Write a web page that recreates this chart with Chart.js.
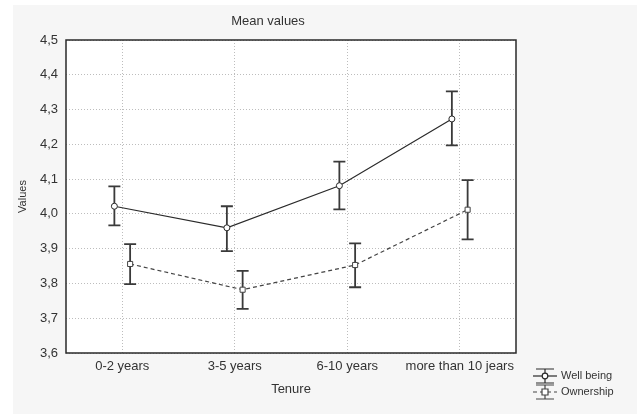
<!DOCTYPE html>
<html>
<head>
<meta charset="utf-8">
<script src="https://cdn.jsdelivr.net/npm/chart.js@4.4.1/dist/chart.umd.min.js"></script>
<style>
  html, body { margin: 0; padding: 0; background: #fff; }
  #wrap { width: 637px; height: 414px; }
</style>
</head>
<body>
<div id="wrap"><canvas id="c"></canvas></div>
<script>
// Mean values by tenure, with error bars
const tenure = ['0-2 years', '3-5 years', '6-10 years', 'more than 10 jears'];

const wellMean = [4.022, 3.960, 4.081, 4.273];
const wellLow  = [3.967, 3.893, 4.013, 4.197];
const wellHigh = [4.079, 4.022, 4.150, 4.352];

const ownMean = [3.856, 3.782, 3.853, 4.012];
const ownLow  = [3.798, 3.727, 3.789, 3.927];
const ownHigh = [3.913, 3.836, 3.915, 4.097];

const yTicks = [3.6, 3.7, 3.8, 3.9, 4.0, 4.1, 4.2, 4.3, 4.4, 4.5];

const FONT = "'Liberation Sans', Arial, sans-serif";
const TXT = '#333';
const DODGE = 0.07; // small horizontal shift so the two series don't overlap

const pts = (vals, shift) => vals.map((v, i) => ({ x: i + 1 + shift, y: v }));

const data = {
    datasets: [
        {
            label: 'Well being',
            data: pts(wellMean, -DODGE),
            low: wellLow, high: wellHigh,
            borderColor: '#2a2a2a', borderWidth: 1.2,
            pointStyle: 'circle', pointRadius: 3,
            pointBackgroundColor: '#fff', pointBorderColor: '#2a2a2a', pointBorderWidth: 1
        },
        {
            label: 'Ownership',
            data: pts(ownMean, DODGE),
            low: ownLow, high: ownHigh,
            borderColor: '#444', borderWidth: 1.2, borderDash: [4, 3],
            pointStyle: 'rect', pointRadius: 3.6,
            pointBackgroundColor: '#fff', pointBorderColor: '#444', pointBorderWidth: 1
        }
    ]
};

// error bars go under the markers
const errorBars = {
    id: 'errorBars',
    beforeDatasetsDraw(chart) {
        const ctx = chart.ctx, ys = chart.scales.y;
        ctx.save();
        ctx.strokeStyle = '#3a3a3a';
        ctx.lineWidth = 1.8;
        chart.data.datasets.forEach((ds, i) => {
            chart.getDatasetMeta(i).data.forEach((el, j) => {
                const y1 = ys.getPixelForValue(ds.low[j]);
                const y2 = ys.getPixelForValue(ds.high[j]);
                ctx.beginPath();
                ctx.moveTo(el.x, y1); ctx.lineTo(el.x, y2);
                ctx.moveTo(el.x - 6, y1); ctx.lineTo(el.x + 6, y1);
                ctx.moveTo(el.x - 6, y2); ctx.lineTo(el.x + 6, y2);
                ctx.stroke();
            });
        });
        ctx.restore();
    }
};

// backgrounds, frame, title and the legend
const decor = {
    id: 'decor',
    beforeDraw(chart) {
        const { ctx, chartArea: a } = chart;
        ctx.save();
        ctx.fillStyle = '#f6f6f6';
        ctx.fillRect(13, 5, chart.width - 13, chart.height - 5);
        ctx.fillStyle = '#fff';
        ctx.fillRect(a.left, a.top, a.right - a.left, a.bottom - a.top);
        ctx.restore();
    },
    afterDraw(chart) {
        const { ctx, chartArea: a } = chart;
        ctx.save();
        ctx.strokeStyle = '#2a2a2a';
        ctx.lineWidth = 1.5;
        ctx.strokeRect(a.left, a.top, a.right - a.left, a.bottom - a.top);

        ctx.fillStyle = TXT;
        ctx.font = '13px ' + FONT;
        ctx.textAlign = 'center';
        ctx.textBaseline = 'middle';
        ctx.fillText('Mean values', 268, 21);

        // legend
        ctx.font = '11px ' + FONT;
        ctx.textAlign = 'left';
        chart.data.datasets.forEach((ds, i) => {
            const cy = 376 + i * 16, cx = 545;
            ctx.strokeStyle = ds.borderColor;
            ctx.lineWidth = 1.2;
            ctx.setLineDash([]);
            ctx.beginPath();
            ctx.moveTo(cx - 9, cy - 7); ctx.lineTo(cx + 9, cy - 7);
            ctx.moveTo(cx - 9, cy + 7); ctx.lineTo(cx + 9, cy + 7);
            ctx.moveTo(cx, cy - 7); ctx.lineTo(cx, cy + 7);
            ctx.stroke();
            ctx.setLineDash(ds.borderDash || []);
            ctx.beginPath();
            ctx.moveTo(cx - 12, cy); ctx.lineTo(cx + 12, cy);
            ctx.stroke();
            ctx.setLineDash([]);
            ctx.fillStyle = '#fff';
            ctx.beginPath();
            if (ds.pointStyle === 'rect') ctx.rect(cx - 3, cy - 3, 6, 6);
            else ctx.arc(cx, cy, 2.8, 0, Math.PI * 2);
            ctx.fill(); ctx.stroke();
            ctx.fillStyle = TXT;
            ctx.fillText(ds.label, cx + 16, cy);
        });
        ctx.restore();
    }
};

new Chart(document.getElementById('c'), {
    type: 'line',
    data: data,
    options: {
        responsive: true, maintainAspectRatio: false, animation: false,
        layout: { padding: { top: 40, right: 121, bottom: 0, left: 0 } },
        plugins: { legend: { display: false }, tooltip: { enabled: false } },
        scales: {
            x: {
                type: 'linear', min: 0.5, max: 4.5,
                afterBuildTicks: s => { s.ticks = tenure.map((_, i) => ({ value: i + 1 })); },
                afterFit: s => { s.height = 61; },
                grid: { color: '#bdbdbd', lineWidth: 1, drawTicks: false, borderDash: [1, 2] },
                border: { display: false, dash: [1, 2] },
                ticks: {
                    padding: 6, color: TXT, font: { family: FONT, size: 13 },
                    maxRotation: 0, autoSkip: false,
                    callback: v => tenure[Math.round(v) - 1]
                },
                title: { display: true, text: 'Tenure', color: TXT, font: { family: FONT, size: 13 }, padding: { top: 0, bottom: 17 } }
            },
            y: {
                min: 3.6, max: 4.5,
                afterBuildTicks: s => { s.ticks = yTicks.map(v => ({ value: v })); },
                afterFit: s => { s.width = 66; },
                grid: { color: '#bdbdbd', lineWidth: 1, drawTicks: false, borderDash: [1, 2] },
                border: { display: false, dash: [1, 2] },
                ticks: {
                    padding: 8, color: TXT, font: { family: FONT, size: 13 },
                    callback: v => v.toFixed(1).replace('.', ',')
                },
                title: { display: true, text: 'Values', color: TXT, font: { family: FONT, size: 11 }, padding: { top: 16, bottom: 0 } }
            }
        }
    },
    plugins: [errorBars, decor]
});
</script>
</body>
</html>
